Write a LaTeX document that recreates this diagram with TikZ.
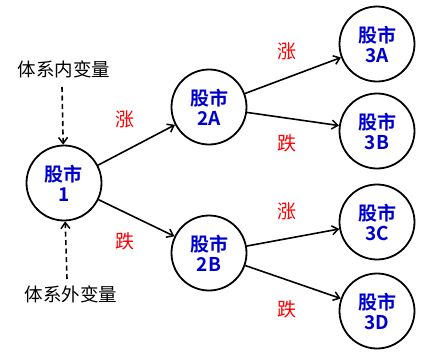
\documentclass[tikz,border=0pt]{standalone}
\usepackage{fontspec}
\newfontfamily\cjk{Noto Sans CJK SC}
\newfontfamily\cjkb{Noto Sans CJK SC Bold}
\usetikzlibrary{arrows.meta}
\definecolor{nodeblue}{RGB}{0,0,204}
\begin{document}
\begin{tikzpicture}[x=1pt,y=-1pt,
  stock/.style={circle,draw,line width=1.8pt,minimum size=75pt,inner sep=0pt,
    font=\cjkb\fontsize{19}{20}\selectfont,text=nodeblue,align=center},
  lbl/.style={font=\cjk\fontsize{19}{20}\selectfont,text=red,inner sep=0pt},
  var/.style={font=\cjk\fontsize{18.5}{20}\selectfont,inner sep=0pt},
  edge/.style={line width=1.6pt,-{Straight Barb[length=6pt,width=9pt,line width=1.5pt]}},
  dedge/.style={line width=1.6pt,dash pattern=on 5pt off 3.5pt,-{Straight Barb[length=6pt,width=9pt,line width=1.5pt]}}]
\useasboundingbox (0,0) rectangle (440,357);
\node[stock] (s1) at (64,183) {股市\\1};
\node[stock] (s2a) at (209,107) {股市\\2A};
\node[stock] (s2b) at (209,253) {股市\\2B};
\node[stock] (s3a) at (377,44) {股市\\3A};
\node[stock] (s3b) at (377,131) {股市\\3B};
\node[stock] (s3c) at (377,222) {股市\\3C};
\node[stock] (s3d) at (377,311) {股市\\3D};
\node[var] (vin) at (64,69) {体系内变量};
\node[var] (vout) at (71,294) {体系外变量};
\coordinate (vinb) at (62,87);
\coordinate (voutt) at (67,279);
\draw[dedge] (vinb) -- (s1);
\draw[dedge] (voutt) -- (s1);
\draw[edge] (s1) -- (s2a);
\draw[edge] (s1) -- (s2b);
\draw[edge] (s2a) -- (s3a);
\draw[edge] (s2a) -- (s3b);
\draw[edge] (s2b) -- (s3c);
\draw[edge] (s2b) -- (s3d);
\node[lbl] (l1) at (125,119) {涨};
\node[lbl] (l2) at (125,241) {跌};
\node[lbl] (l3) at (287,51) {涨};
\node[lbl] (l4) at (287,143) {跌};
\node[lbl] (l5) at (287,211) {涨};
\node[lbl] (l6) at (287,309) {跌};
\end{tikzpicture}
\end{document}
